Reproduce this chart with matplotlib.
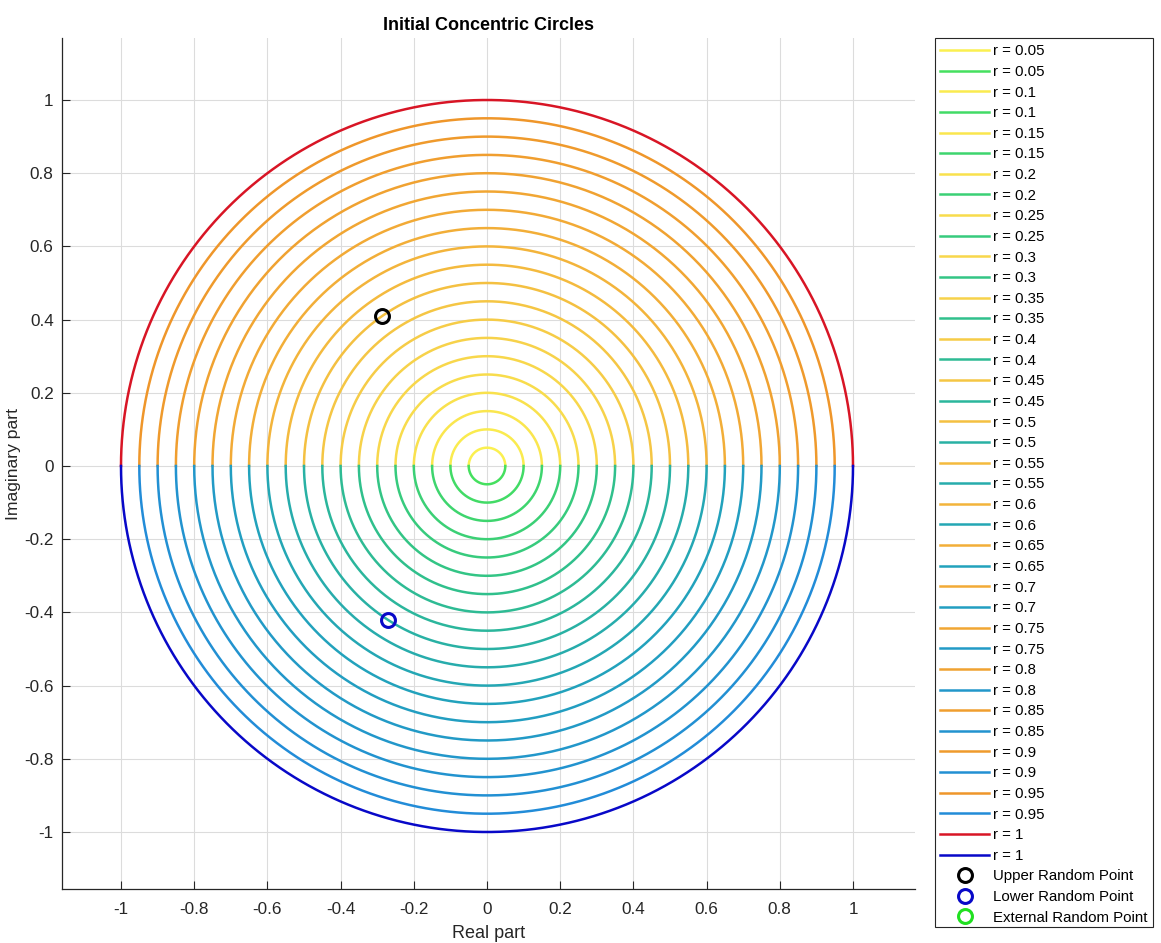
import numpy as np
import matplotlib
matplotlib.use("Agg")
import matplotlib.pyplot as plt
from matplotlib.colors import LinearSegmentedColormap
from matplotlib.patches import Rectangle

# radii of the concentric circles
radii = [0.05, 0.1, 0.15, 0.2, 0.25, 0.3, 0.35, 0.4, 0.45, 0.5,
         0.55, 0.6, 0.65, 0.7, 0.75, 0.8, 0.85, 0.9, 0.95, 1]
radius_labels = ["0.05", "0.1", "0.15", "0.2", "0.25", "0.3", "0.35", "0.4", "0.45", "0.5",
                 "0.55", "0.6", "0.65", "0.7", "0.75", "0.8", "0.85", "0.9", "0.95", "1"]

upper_point = (-0.287, 0.41)
lower_point = (-0.27, -0.421)

ticks = [-1, -0.8, -0.6, -0.4, -0.2, 0, 0.2, 0.4, 0.6, 0.8, 1]
tick_labels = ["-1", "-0.8", "-0.6", "-0.4", "-0.2", "0", "0.2", "0.4", "0.6", "0.8", "1"]

upper_colors = ["#fbf050", "#f7d24a", "#f2ae38", "#ef962a"]
lower_colors = ["#45e05f", "#30c08c", "#22a2bc", "#228cd8"]
upper_cmap = LinearSegmentedColormap.from_list("upper", upper_colors)
lower_cmap = LinearSegmentedColormap.from_list("lower", lower_colors)

plt.rcParams["font.family"] = ["Liberation Sans", "DejaVu Sans"]

W, H = 1161, 943
fig = plt.figure(figsize=(W / 100, H / 100), dpi=100)
ax = fig.add_axes([62 / W, 1 - 889 / H, (915 - 62) / W, (889 - 38) / H])

theta_up = np.linspace(0, np.pi, 400)
theta_low = np.linspace(np.pi, 2 * np.pi, 400)

for i, r in enumerate(radii):
    frac = i / 18
    if r == 1:
        c_up, c_low = "#d81525", "#0808c8"
    else:
        c_up, c_low = upper_cmap(frac), lower_cmap(frac)
    label = "r = " + radius_labels[i]
    ax.plot(r * np.cos(theta_up), r * np.sin(theta_up), color=c_up, lw=1.8, label=label, zorder=3)
    ax.plot(r * np.cos(theta_low), r * np.sin(theta_low), color=c_low, lw=1.8, label=label, zorder=3)

ax.plot(upper_point[0], upper_point[1], "o", mfc="none", mec="black", ms=10, mew=2.2,
        label="Upper Random Point", zorder=4)
ax.plot(lower_point[0], lower_point[1], "o", mfc="none", mec="#0808c8", ms=10, mew=2.2,
        label="Lower Random Point", zorder=4)
# the external point falls outside the visible range
ax.plot([], [], "o", mfc="none", mec="#20e020", ms=10, mew=2.2, label="External Random Point")

ax.set_xlim((62 - 487) / 366, (915 - 487) / 366)
ax.set_ylim((466 - 889) / 366, (466 - 38) / 366)
ax.set_xticks(ticks)
ax.set_xticklabels(tick_labels)
ax.set_yticks(ticks)
ax.set_yticklabels(tick_labels)
ax.tick_params(direction="in", length=6, width=0.8, labelsize=12.3, color="#262626",
               labelcolor="#262626")
ax.tick_params(axis="x", pad=9)
ax.tick_params(axis="y", pad=6)
ax.grid(True, color="#dcdcdc", lw=0.8)
ax.set_axisbelow(True)
ax.spines["top"].set_visible(False)
ax.spines["right"].set_visible(False)
for s in ("left", "bottom"):
    ax.spines[s].set_color("#262626")
    ax.spines[s].set_linewidth(0.9)

ax.set_xlabel("Real part", fontsize=13, color="#262626", labelpad=6)
ax.set_ylabel("Imaginary part", fontsize=12.6, color="#262626", labelpad=2)
ax.set_title("Initial Concentric Circles", fontsize=13, fontweight="bold", pad=6)

leg = ax.legend(loc="upper left", bbox_to_anchor=(935 / W, 1 - 39 / H), bbox_transform=fig.transFigure,
                fontsize=10.8, frameon=False,
                borderaxespad=0, borderpad=0.35, labelspacing=0.442, handlelength=3.27,
                handletextpad=0.27)

# legend box
fig.add_artist(Rectangle((935 / W, 1 - 927 / H), (1153 - 935) / W, (927 - 37.5) / H,
                         transform=fig.transFigure, fill=False, edgecolor="#262626", lw=0.8))

fig.savefig("out.png", dpi=100)
